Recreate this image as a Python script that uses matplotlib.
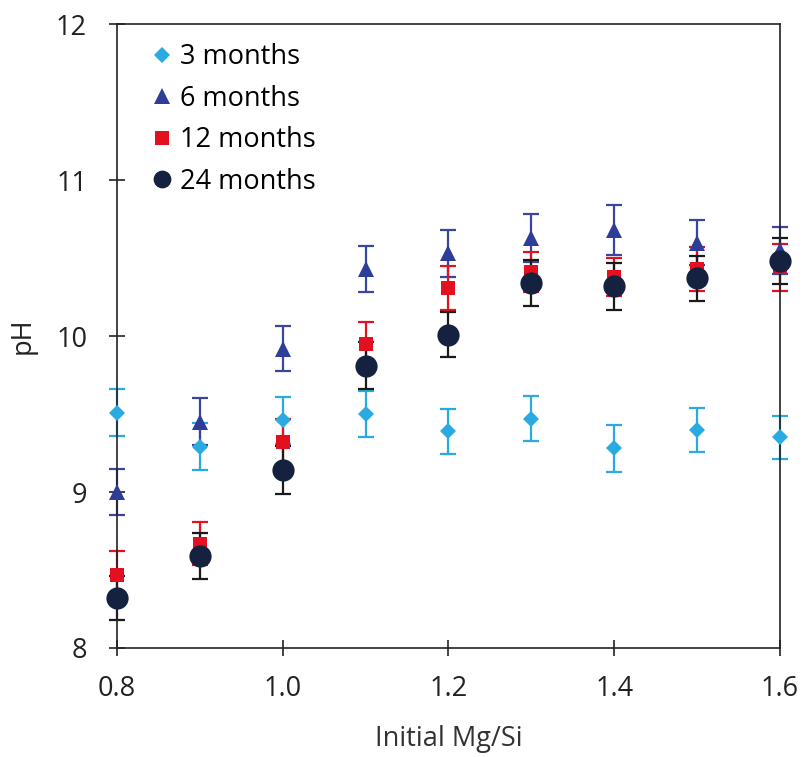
import matplotlib
matplotlib.use("Agg")
import matplotlib.pyplot as plt
from matplotlib.lines import Line2D

plt.rcParams['font.family'] = ['Open Sans', 'DejaVu Sans']

mg_si = [0.8, 0.9, 1.0, 1.1, 1.2, 1.3, 1.4, 1.5, 1.6]

ph_3m = [9.51, 9.29, 9.46, 9.50, 9.39, 9.47, 9.28, 9.40, 9.35]
err_3m = [0.15, 0.15, 0.15, 0.15, 0.145, 0.145, 0.15, 0.14, 0.14]

ph_6m = [9.00, 9.45, 9.92, 10.43, 10.53, 10.63, 10.68, 10.60, 10.55]
err_6m = [0.15, 0.15, 0.145, 0.15, 0.15, 0.155, 0.16, 0.145, 0.15]

ph_12m = [8.47, 8.67, 9.32, 9.95, 10.31, 10.41, 10.38, 10.43, 10.44]
err_12m = [0.155, 0.14, 0.15, 0.14, 0.14, 0.13, 0.12, 0.14, 0.15]

ph_24m = [8.32, 8.59, 9.14, 9.81, 10.01, 10.34, 10.32, 10.37, 10.48]
err_24m = [0.14, 0.15, 0.155, 0.15, 0.147, 0.147, 0.15, 0.143, 0.147]

labels = ["3 months", "6 months", "12 months", "24 months"]

fig = plt.figure(figsize=(8.04, 7.57), dpi=100)
ax = fig.add_axes([0.1455, 0.144, 0.8245, 0.824])

series = [
    (ph_3m, err_3m, 'D', 8.5, '#29ABE2', '#29ABE2'),
    (ph_6m, err_6m, '^', 12, '#2E3D98', '#3A45A0'),
    (ph_12m, err_12m, 's', 10.5, '#E3101F', '#E3101F'),
    (ph_24m, err_24m, 'o', 16, '#14213F', '#1a1a1a'),
]

handles = []
for (y, e, m, ms, c, ec), lab in zip(series, labels):
    cont = ax.errorbar(mg_si, y, yerr=e, fmt='none', ecolor=ec,
                       elinewidth=1.6, capsize=6, capthick=1.6, zorder=2)
    for cl in cont.lines[1]:
        cl.set_clip_on(False)
    for bl in cont.lines[2]:
        bl.set_clip_on(False)
    ax.plot(mg_si, y, linestyle='none', marker=m, ms=ms, color=c,
            markeredgewidth=0, clip_on=False, zorder=3)
    handles.append(Line2D([], [], linestyle='none', marker=m,
                          ms=ms * 0.8 if m == 'o' else ms * 0.95,
                          color=c, markeredgewidth=0, label=lab))

ax.set_xlim(0.8, 1.6)
ax.set_ylim(8, 12)
ax.set_xticks([0.8, 1.0, 1.2, 1.4, 1.6])
ax.set_xticklabels(["0.8", "1.0", "1.2", "1.4", "1.6"])
ax.set_yticks([8, 9, 10, 11, 12])
ax.tick_params(direction='inout', length=11, width=1.2, labelsize=19.5,
               colors='#222222')
ax.tick_params(axis='x', pad=14)
ax.tick_params(axis='y', pad=16)
for s in ax.spines.values():
    s.set_linewidth(1.2)
    s.set_color('#222222')

ax.set_xlabel("Initial Mg/Si", fontsize=19.5, color='#333333', labelpad=16)
ax.set_ylabel("pH", fontsize=19.5, color='#222222', labelpad=14)

ax.legend(handles=handles, loc='upper left', frameon=False, fontsize=19.5,
          handletextpad=0.05, handlelength=1.2, labelspacing=0.5,
          borderaxespad=0.3, bbox_to_anchor=(0.015, 1.0))

fig.savefig("out.png", dpi=100)
